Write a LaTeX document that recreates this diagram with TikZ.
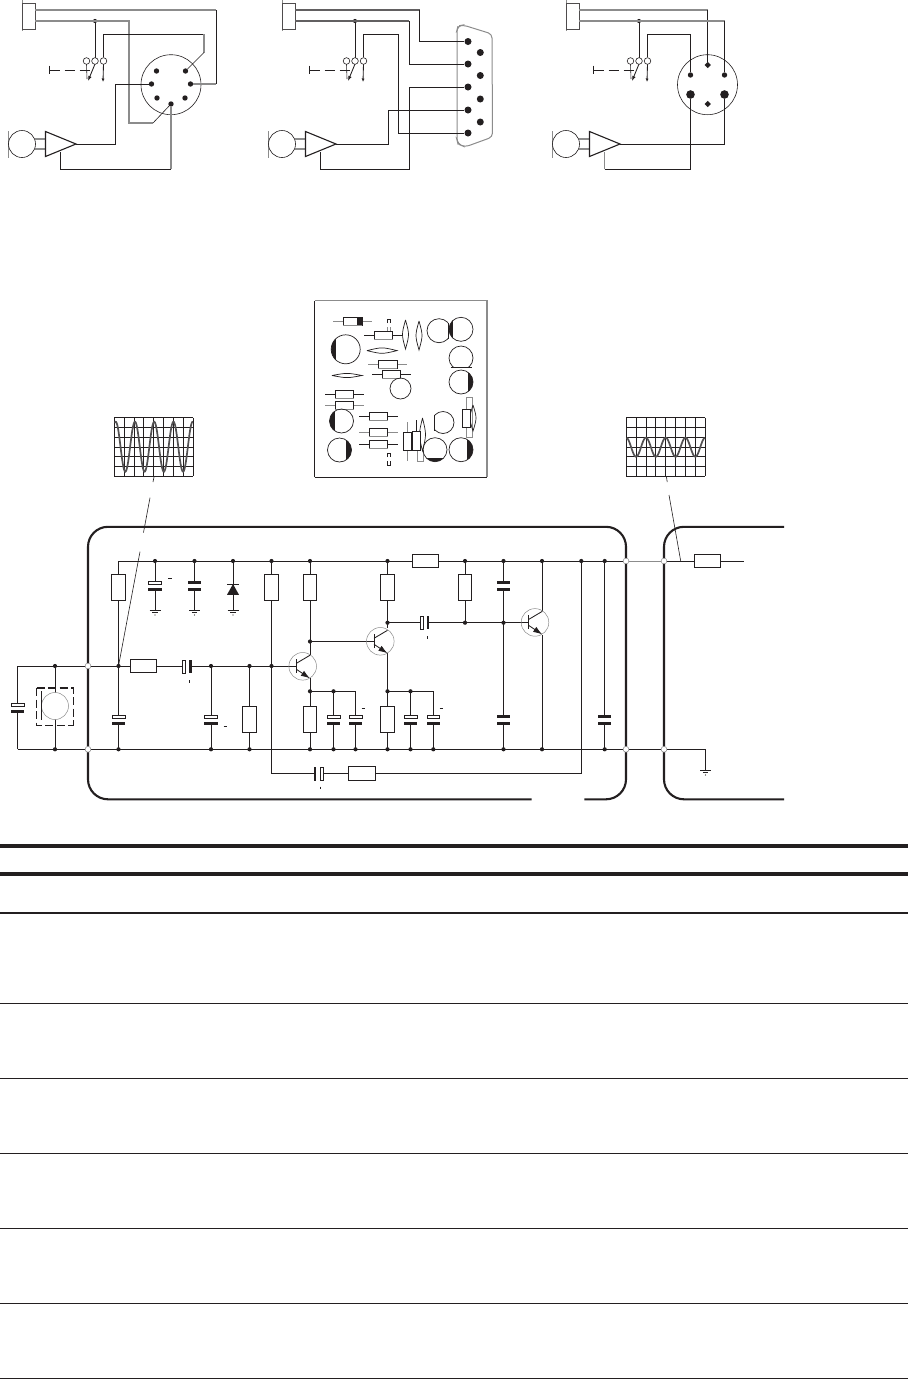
\documentclass[tikz,border=0pt]{standalone}
\usetikzlibrary{arrows.meta,shapes.geometric}
\definecolor{ink}{HTML}{231F20}
\definecolor{gw}{HTML}{8C8C8C}
\tikzset{
  x=1pt,y=-1pt,
  wire/.style={draw=ink,line width=0.85pt},
  gwire/.style={draw=gw,line width=1.1pt},
  thin wire/.style={draw=ink,line width=0.6pt},
  board/.style={draw=ink,line width=2.1pt,rounded corners=20pt},
  rule/.style={draw=ink},
  dot/.style={circle,fill=ink,inner sep=0pt,minimum size=4.2pt},
  pin/.style={circle,fill=ink,inner sep=0pt,minimum size=5.4pt},
  bigpin/.style={circle,fill=ink,inner sep=0pt,minimum size=8.6pt},
  sdia/.style={diamond,fill=ink,inner sep=0pt,minimum size=6.5pt},
  ring/.style={circle,draw=gw,fill=white,line width=0.5pt,inner sep=0pt,minimum size=5.8pt},
  sw/.style={circle,draw=ink,fill=white,line width=0.6pt,inner sep=0pt,minimum size=6.6pt},
  box/.style={draw=ink,fill=white,line width=0.85pt},
  pcb/.style={draw=ink,line width=0.7pt},
  pcbg/.style={draw=gw,line width=1pt},
}
% vertical resistor: centre x, top y
\newcommand{\vres}[2]{\draw[box] ({#1-6.6},#2) rectangle ({#1+6.6},{#2+26});}
% horizontal resistor: left x, centre y
\newcommand{\hres}[2]{\draw[box] (#1,{#2-6.5}) rectangle ({#1+26},{#2+6.5});}
% plain capacitor: centre x, top y
\newcommand{\capn}[2]{\fill[white] ({#1-6},{#2}) rectangle ({#1+6},{#2+10});
  \fill[ink] ({#1-6.7},#2) rectangle ({#1+6.7},{#2+3.2});
  \fill[ink] ({#1-6.7},{#2+7}) rectangle ({#1+6.7},{#2+10});}
% polarised capacitor: centre x, top y
\newcommand{\capp}[2]{\fill[white] ({#1-6},{#2}) rectangle ({#1+6},{#2+10});
  \draw[box,line width=0.7pt] ({#1-6.4},{#2+.2}) rectangle ({#1+6.4},{#2+3.2});
  \fill[ink] ({#1-6.7},{#2+7}) rectangle ({#1+6.7},{#2+10});}
% ground: x, y
\newcommand{\gnd}[2]{\draw[thin wire] ({#1-5.5},#2) -- ({#1+5.5},#2);
  \draw[thin wire] ({#1-2.7},{#2+2.6}) -- ({#1+2.7},{#2+2.6});
  \fill[ink] (#1,{#2+5}) circle[radius=.6];}
% transistor: centre x, y
\newcommand{\trans}[2]{\draw[gw,line width=.5pt] (#1,#2) circle[radius=13.8];
  \draw[wire,line width=.9pt] ({#1-6.3},{#2-7}) -- ({#1-6.3},{#2+7});
  \draw[wire] ({#1-6.3},{#2-3}) -- ({#1+7.2},{#2-11});
  \draw[wire,-{Latex[length=9pt,width=6pt]}] ({#1-6.3},{#2+3}) -- ({#1+7.2},{#2+12});}
% left part of a top panel
\newcommand{\panel}[2]{\begin{scope}[xshift=#1pt]
  \coordinate (#2a) at (35,10); \coordinate (#2b) at (35,21);
  \coordinate (#2j) at (95,21); \coordinate (#2s) at (103.5,61);
  \coordinate (#2o) at (76,144); \coordinate (#2g) at (60.5,152);
  \draw[gw,line width=1pt] (22,0) -- (22,31);
  \draw[box,draw=ink!80] (22.4,3) rectangle (35,29);
  \draw[wire] (#2j) -- (95,58);
  \node[dot] at (#2j) {};
  \draw[thin wire] (86.5,64) -- (87,79);
  \draw[wire,-{Latex[length=5pt,width=3.6pt]}] (95,64) -- (88,81);
  \draw[wire,-{Latex[length=3.5pt,width=3pt,open]}] (103.5,64) -- (103,82);
  \node[sw] at (86.5,61) {}; \node[sw] at (95,61) {}; \node[sw] (#2sw) at (#2s) {};
  \draw[wire,line width=.9pt] (49.5,65.5) -- (49.5,74);
  \draw[wire,line width=.8pt,dash pattern=on 10pt off 5pt] (49.5,70) -- (93,70);
  \draw[gw,line width=1pt] (8.5,131) -- (8.5,157.5);
  \draw[thin wire] (22,144) circle[radius=13.5];
  \draw[gwire] (35,139) -- (45,139); \draw[gwire] (35,149) -- (45,149);
  \draw[wire,line width=1.1pt,fill=white] (45.5,131.5) -- (76,144) -- (45.5,156.5) -- cycle;
\end{scope}}
\begin{document}
\begin{tikzpicture}
\useasboundingbox (0,0) rectangle (908,1379);
\fill[white] (0,0) rectangle (908,1379);

%% ---------- panel 1
\panel{0}{A}
\coordinate (p1c) at (171,84.7);
\draw[thin wire] (p1c) circle[radius=30];
\foreach \n/\x/\y in {1/156.5/71,2/185.5/71,3/151.5/84,4/190.5/84,5/157/98,6/185/98,7/171/104}
  \node[pin] (Ap\n) at (\x,\y) {};
\draw[gwire] (Aa) -- (216,10);
\draw[wire] (216,10) -- (216,84);
\draw[gwire] (216,84) -- (Ap4);
\draw[gwire] (Ab) -- (129,21) -- (129,123) -- (153,123);
\draw[thin wire] (153,123) -- (Ap7);
\draw[wire] (Asw) -- (103.5,34) -- (204,34);
\draw[gwire] (204,34) -- (204,52.5);
\draw[thin wire] (204,52.5) -- (Ap2);
\draw[wire] (Ao) -- (115,144) -- (115,84) -- (Ap3);
\draw[wire] (Ag) -- (60.5,169) -- (171,169);
\draw[gwire] (171,169) -- (Ap7);

%% ---------- panel 2
\panel{260}{B}
\draw[rounded corners=4pt,gw,line width=1pt]
  (457,30) -- (458,26) -- (463,25) -- (492,34) -- (492.5,137) -- (465,147) -- (458,144) -- (457,140) -- cycle;
\foreach \n/\y in {1/41.5,2/64,3/87,4/110,5/133}
  \node[bigpin,minimum size=7pt] (Bl\n) at (468,\y) {};
\foreach \y in {52.5,75.5,99,122}
  \node[bigpin,minimum size=7pt] at (480.3,\y) {};
\draw[gwire,draw=gw!60!ink] (Ba) -- (419.5,10);
\draw[wire] (419.5,10) -- (419.5,41.5) -- (Bl1);
\draw[gwire,draw=gw!60!ink] (Bb) -- (409,21);
\draw[wire] (409,21) -- (409,64) -- (Bl2);
\draw[wire] (Bsw) -- (363.5,34) -- (398,34) -- (398,133) -- (Bl5);
\draw[wire] (Bo) -- (388,144) -- (388,110) -- (Bl4);
\draw[wire] (Bg) -- (320.5,169) -- (409,169) -- (409,87) -- (Bl3);

%% ---------- panel 3
\panel{544}{C}
\coordinate (p3c) at (707.5,84.7);
\draw[thin wire] (p3c) circle[radius=30];
\node[sdia] (Cp1) at (707.7,65) {};
\node[sdia] (Cp2) at (707.7,104) {};
\node[pin] (Cp3) at (690.5,75) {};
\node[pin] (Cp4) at (724.5,75) {};
\node[bigpin] (Cp5) at (690.5,94.5) {};
\node[bigpin] (Cp6) at (724.5,94.5) {};
\draw[gwire] (Ca) -- (707.7,10);
\draw[wire] (707.7,10) -- (Cp1);
\draw[gwire] (Cb) -- (724.5,21);
\draw[wire] (724.5,21) -- (Cp4);
\draw[wire] (Csw) -- (647.5,34) -- (690.5,34) -- (Cp3);
\draw[wire] (Co) -- (724.5,144) -- (Cp6);
\draw[gwire] (Cg) -- (604.5,169);
\draw[wire] (604.5,169) -- (690.5,169) -- (Cp5);

%% ---------- PCB layout
\draw[draw=ink,line width=.8pt] (314.5,477) -- (487,477);
\draw[draw=ink,line width=.8pt] (314.5,477) -- (314.5,300.5);
\draw[gw,line width=1.1pt] (314.5,300.5) -- (487,300.5) -- (487,477);
\newcommand{\pres}[4]{% left, right, y, lead style
  \draw[#4] ({#1-10},#3) -- ({#2+10},#3);
  \draw[pcb,fill=white] (#1,{#3-4}) rectangle (#2,{#3+4.2});
  \draw[gw,line width=.8pt] (#1,{#3+4.2}) -- (#2,{#3+4.2});}
\newcommand{\plenv}[3]{% vertical lens x,y1,y2
  \draw[pcb] (#1,#2) .. controls ({#1-4},{(#2+#3)/2}) .. (#1,#3) .. controls ({#1+4},{(#2+#3)/2}) .. (#1,#2);}
\newcommand{\plenh}[4]{% horizontal lens y,x1,x2,bulge
  \draw[pcb] (#2,#1) .. controls ({(#2+#3)/2},{#1-#4}) .. (#3,#1) .. controls ({(#2+#3)/2},{#1+#4}) .. (#2,#1);}
\newcommand{\pcirc}[7]{% cx cy r and black rect
  \begin{scope}\clip (#1,#2) circle[radius=#3];\fill[ink] (#4,#5) rectangle (#6,#7);\end{scope}
  \draw[pcb] (#1,#2) circle[radius=#3];}
\newcommand{\pdee}[7]{% cx cy r clip rect
  \begin{scope}\clip (#4,#5) rectangle (#6,#7);\draw[pcb] (#1,#2) circle[radius=#3];\end{scope}}
% diode
\pres{343}{362}{321}{pcbg}
\fill[ink] (357,317) rectangle (362,325.2);
% stubs
\draw[pcb] (387.5,323) -- (387.5,319) -- (390.5,319) -- (390.5,323);
\draw[pcbg] (387.5,327) -- (387.5,331); \draw[pcbg] (390.5,327) -- (390.5,331);
\draw[pcb] (387.5,461) -- (387.5,465) -- (390.5,465) -- (390.5,461);
\draw[pcb] (387.5,457) -- (387.5,453) -- (390.5,453) -- (390.5,457);
% upper resistors and lenses
\draw[pcb] (364,335) -- (374,335); \draw[pcb] (392,335) -- (403,335);
\draw[pcb,fill=white] (374,331) rectangle (392.5,339);
\draw[gw,line width=.8pt] (374,339) -- (392.5,339);
\plenv{405.5}{320}{349}
\plenv{419}{321}{350}
\pdee{439}{330.7}{12}{420}{315}{448.2}{345}
\draw[pcb] (448.2,322.5) -- (448.2,339);
\pcirc{461}{329.3}{12}{440}{310}{453}{350}
\pcirc{345.7}{349.3}{14.5}{325}{330}{336}{370}
\plenh{350.6}{367}{397}{3.6}
\pres{378}{397}{364}{pcbg}
\pres{382}{400.5}{374}{pcb}
\pdee{461}{358}{12}{445}{340}{477}{367}
\draw[pcb] (450.5,367) -- (471.5,367);
\pcirc{461}{382}{12}{468}{365}{480}{400}
\plenh{375.5}{332}{362}{2.8}
\draw[pcb] (400.5,388.5) circle[radius=10.5];
\pres{335}{353.5}{394}{pcb}
\pres{335}{353.5}{405}{pcbg}
\pcirc{341.5}{421}{12}{325}{405}{335}{440}
\pcirc{339.5}{450}{12}{346}{435}{360}{465}
\pres{369}{387.5}{416}{pcb}
\pres{369}{387.5}{432}{pcbg}
\pres{369}{387.5}{444}{pcb}
\pdee{443}{422.5}{11}{434.5}{405}{460}{440}
\draw[pcb] (434.5,415) -- (434.5,430.5);
% right-hand group
\draw[gw,line width=1pt] (466,409) -- (466,397) -- (472.5,397) -- (472.5,437) -- (466,437) -- (466,427);
\plenv{473}{405}{431}
\draw[pcb,fill=white] (462.5,409) rectangle (470,427);
% vertical pair
\draw[gw,line width=1pt] (407,422) -- (407,461);
\draw[pcb,fill=white] (403,432) rectangle (411,450.5);
\draw[gw,line width=1pt] (417,431) -- (417,461) -- (423,461) -- (423,450);
\draw[pcb] (416,420) -- (416,431);
\plenv{422.5}{418}{451}
\draw[pcb,fill=white] (412.5,431) rectangle (420,450.5);
\pcirc{435}{449.7}{12}{420}{458}{450}{465}
\pcirc{461}{449.7}{12}{467}{435}{475}{465}

%% ---------- oscilloscopes
\newcommand{\scopegrid}[1]{\foreach \i in {0,...,8} \draw[wire,line width=.9pt] ({#1+\i*9.87},417.7) -- ({#1+\i*9.87},476.3);
  \foreach \j in {0,...,6} \draw[wire,line width=.9pt] (#1,{417.7+\j*9.77}) -- ({#1+78.9},{417.7+\j*9.77});}
\scopegrid{114.3}
\draw[gw!45!ink,line width=1.7pt,smooth,samples=120,domain=114.8:193]
  plot (\x,{446.7-25*cos((\x-115.7)/19.25*360)});
\scopegrid{626.3}
\draw[gw!45!ink,line width=1.7pt,smooth,samples=120,domain=626.6:704.8]
  plot (\x,{447.2-9.5*cos((\x-626.2)/19.75*360)});

% probes
\coordinate (P1a) at (154,477); \coordinate (P1b) at (153,482);
\coordinate (P1c) at (150,497.7); \coordinate (P1d) at (143.5,532.5);
\coordinate (P1e) at (140,551.7); \coordinate (P1f) at (118.5,666);
\draw[thin wire] (P1a) -- (P1b);
\draw[thin wire] (P1c) -- (P1d);
\draw[thin wire] (P1e) -- (P1f);
\coordinate (P2a) at (666.5,477);
\draw[thin wire] (P2a) -- (667.2,482);
\draw[thin wire] (669,495) -- (680.7,561);

%% ---------- circuit wires
\coordinate (Tl) at (118.5,561);
\coordinate (Tr) at (744,561);
\coordinate (Bl) at (17.5,749.3);
\coordinate (Bgr) at (705.5,749.3);
\coordinate (Ml) at (17.5,666);
\coordinate (Mr) at (296.5,666);
\draw[wire] (Tl) -- (626,561);
\draw[gwire,line width=1pt] (626,561) -- (664,561);
\draw[wire] (664,561) -- (Tr);
\draw[wire] (Bl) -- (Bgr) -- (705.5,770);
\draw[wire] (Ml) -- (Mr);
\draw[wire] (Ml) -- (Bl);
\foreach \x in {155,194.5,233} \draw[wire] (\x,561) -- (\x,610);
\draw[wire] (Tl) -- (118.5,749.3);
\draw[wire] (55,666) -- (55,749.3);
\draw[wire] (211,666) -- (211,749.3);
\draw[wire] (249.5,666) -- (249.5,749.3);
\draw[wire] (271.5,561) -- (271.5,773.3) -- (581.3,773.3) -- (581.3,561);
% T1 / T2 / T3 branches
\coordinate (T1c) at (310,655); \coordinate (T1e) at (310,678);
\coordinate (T2c) at (387.5,628); \coordinate (T2e) at (387.5,653);
\coordinate (T3c) at (542,611); \coordinate (T3e) at (542,635);
\draw[wire] (310,561) -- (T1c);
\draw[wire] (T1e) -- (310,749.3);
\draw[wire] (387.5,561) -- (T2c);
\draw[wire] (T2e) -- (387.5,749.3);
\draw[wire] (310,641.5) -- (373.5,641.5);
\draw[wire] (387.5,622.7) -- (528.7,622.7);
\draw[wire] (465,561) -- (465,622.7);
\draw[wire] (503.5,561) -- (503.5,749.3);
\draw[wire] (542,561) -- (T3c);
\draw[wire] (T3e) -- (542,749.3);
\draw[wire] (310,691.3) -- (355.5,691.3) -- (355.5,749.3);
\draw[wire] (333.5,691.3) -- (333.5,749.3);
\draw[wire] (387.5,691.3) -- (433.3,691.3) -- (433.3,749.3);
\draw[wire] (410.5,691.3) -- (410.5,749.3);
\draw[wire] (604.7,561) -- (604.7,749.3);

%% ---------- boards
\draw[board] (531.7,799.3) -- (88,799.3) -- (88,526.8) -- (626,526.8) -- (626,799.3) -- (584.3,799.3);
\draw[board] (784,526.8) -- (664,526.8) -- (664,799.3) -- (784,799.3);

%% ---------- resistors
\vres{118.5}{574.5}\vres{271.5}{574.5}\vres{310}{574.5}\vres{387.5}{574.5}\vres{465}{574.5}
\vres{249.5}{706.5}\vres{310}{706.5}\vres{387.5}{706.5}
\hres{130.3}{666.3}
\hres{412.3}{561}
\hres{694.3}{561}
\draw[box] (348.3,766.8) rectangle (375.7,780);

%% ---------- capacitors (vertical stacks)
\capp{155}{581}\capn{194.5}{581}\capn{503.5}{581}
\capp{118.5}{715}\capp{211}{715}
\capp{333.5}{715}\capp{355.5}{715}\capp{410.5}{715}\capp{433.3}{715}
\capn{503.5}{715}\capn{604.7}{715}
\capp{17.5}{703.3}
% horizontal capacitors
\fill[white] (183,660) rectangle (190,673);
\draw[box,line width=.7pt] (182.5,660) rectangle (185.2,673);
\fill[ink] (189,660) rectangle (191.5,673);
\fill[white] (421,616) rectangle (428,629);
\draw[box,line width=.7pt] (420.4,616) rectangle (423,629);
\fill[ink] (426.7,616) rectangle (429.2,629);
\fill[white] (316,767) rectangle (321,780);
\fill[ink] (313.5,767) rectangle (316,780.5);
\draw[box,line width=.7pt] (320.4,767) rectangle (323,780.5);
% polarity ticks
\foreach \x/\y in {170/578.5,225.5/726.5,363.5/708.7,441.5/708.7}
  \draw[thin wire] ({\x-1.8},\y) -- ({\x+1.8},\y);
\foreach \x/\y in {189.5/681.5,427/637.5,320.5/788}
  \draw[thin wire] (\x,{\y-1.4}) -- (\x,{\y+1.4});

%% ---------- diode and grounds
\fill[ink] (227,594.8) -- (233,584) -- (239,594.8) -- cycle;
\draw[wire] (227.3,584) -- (238.7,584);
\gnd{155}{610}\gnd{194.5}{610}\gnd{233}{610}\gnd{705.5}{770}

%% ---------- transistors
\trans{302.7}{666.3}
\trans{380.3}{641.3}
\trans{535}{622.4}

%% ---------- microphone
\draw[gw,line width=.5pt,fill=white] (55,706) circle[radius=13.5];
\draw[wire,line width=1.1pt,dash pattern=on 8pt off 3.5pt] (36.5,688) -- (73.5,688) -- (73.5,725.3);
\draw[wire,line width=1.1pt,dash pattern=on 8pt off 3.5pt] (36.5,688) -- (36.5,725.3) -- (73.5,725.3);
\draw[wire] (41.5,691) -- (41.5,720);

%% ---------- junction dots
\foreach \x in {155,194.5,233,271.5,310,387.5,465,503.5,542,581.3,604.7}
  \node[dot] at (\x,561) {};
\foreach \x in {55,118.5,211,249.5,310,333.5,355.5,387.5,410.5,433.3,503.5,542,604.7}
  \node[dot] at (\x,749.3) {};
\foreach \x in {55,118.5,211,249.5,271.5} \node[dot] at (\x,666) {};
\foreach \x in {310,333.5,387.5,410.5} \node[dot] at (\x,691.3) {};
\node[dot] at (310,641.5) {};
\foreach \x in {387.5,465,503.5} \node[dot] at (\x,622.7) {};

%% ---------- rings at board edges
\foreach \x/\y in {88/666,88/749.3,626/561,626/749.3,664/561,664/749.3} \node[ring] at (\x,\y) {};

%% ---------- table rules
\foreach \y/\w in {845.7/3.6,873.7/3.6,912.7/2}
  \draw[rule,line width=\w pt] (0,\y) -- (908,\y);
\foreach \y in {1003.5,1078.5,1153.5,1228.5,1303.5,1378.6}
  \draw[rule,line width=.9pt] (0,\y) -- (908,\y);
\end{tikzpicture}
\end{document}
